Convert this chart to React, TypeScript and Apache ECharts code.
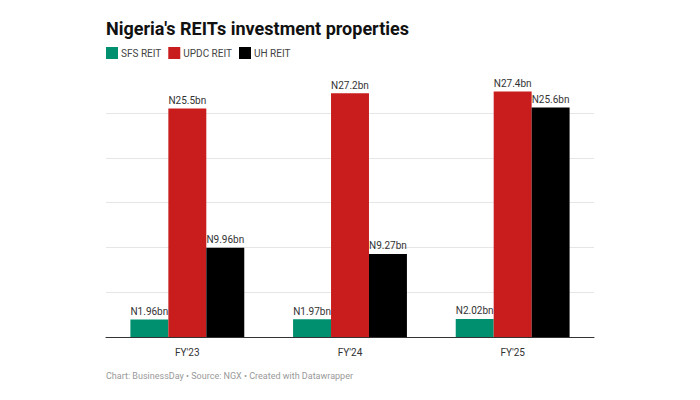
import React, { useEffect, useRef } from "react";
import * as echarts from "echarts";

const categories = ["FY'23", "FY'24", "FY'25"];
const sfsValues = [1.96, 1.97, 2.02];
const updcValues = [25.5, 27.2, 27.4];
const uhValues = [9.96, 9.27, 25.6];
const seriesNames = ["SFS REIT", "UPDC REIT", "UH REIT"];
const colors = ["#00906f", "#c91d1d", "#000000"];

const FONT = "Roboto, 'Noto Sans', sans-serif";

export default function App() {
  const ref = useRef<HTMLDivElement>(null);
  useEffect(() => {
    if (!ref.current) return;
    const chart = echarts.init(ref.current, undefined, { renderer: "svg" });
    const data = [sfsValues, updcValues, uhValues];
    chart.setOption({
      animation: false,
      backgroundColor: "#ffffff",
      textStyle: { fontFamily: FONT },
      title: {
        text: "Nigeria's REITs investment properties",
        left: 101,
        top: 14,
        textStyle: { fontFamily: FONT, fontSize: 18, fontWeight: "bold", color: "#111111" },
      },
      legend: {
        left: 101,
        top: 42,
        itemWidth: 12,
        itemHeight: 12,
        itemGap: 7,
        icon: "rect",
        textStyle: { fontFamily: FONT, fontSize: 10, color: "#444444", padding: [0, 0, 0, -2] },
        data: seriesNames,
      },
      grid: { left: 106, right: 106, top: 113, bottom: 63, containLabel: false },
      xAxis: {
        type: "category",
        data: categories,
        axisLine: { lineStyle: { color: "#333333", width: 1 } },
        axisTick: { show: false },
        axisLabel: { fontFamily: FONT, fontSize: 10, color: "#333333", margin: 10 },
      },
      yAxis: {
        type: "value",
        min: 0,
        max: 25,
        interval: 5,
        axisLine: { show: false },
        axisTick: { show: false },
        axisLabel: { show: false },
        splitLine: { lineStyle: { color: "#e6e6e6", width: 1 } },
      },
      series: seriesNames.map((name, i) => ({
        name,
        type: "bar",
        data: data[i],
        clip: false,
        barGap: "0%",
        barCategoryGap: "30%",
        itemStyle: { color: colors[i] },
        label: {
          show: true,
          position: "top",
          distance: 3,
          fontFamily: FONT,
          fontSize: 10,
          color: "#333333",
          formatter: (p: any) => "N" + p.value + "bn",
        },
      })),
      graphic: [
        {
          type: "text",
          left: 106,
          top: 371,
          style: {
            text: "Chart: BusinessDay • Source: NGX • Created with Datawrapper",
            fontFamily: FONT,
            fontSize: 9,
            fill: "#999999",
          },
        },
      ],
    });
    return () => chart.dispose();
  }, []);
  return (
    <div
      ref={ref}
      style={{ position: "fixed", left: 0, top: 0, width: 700, height: 400, background: "#fff" }}
    />
  );
}
